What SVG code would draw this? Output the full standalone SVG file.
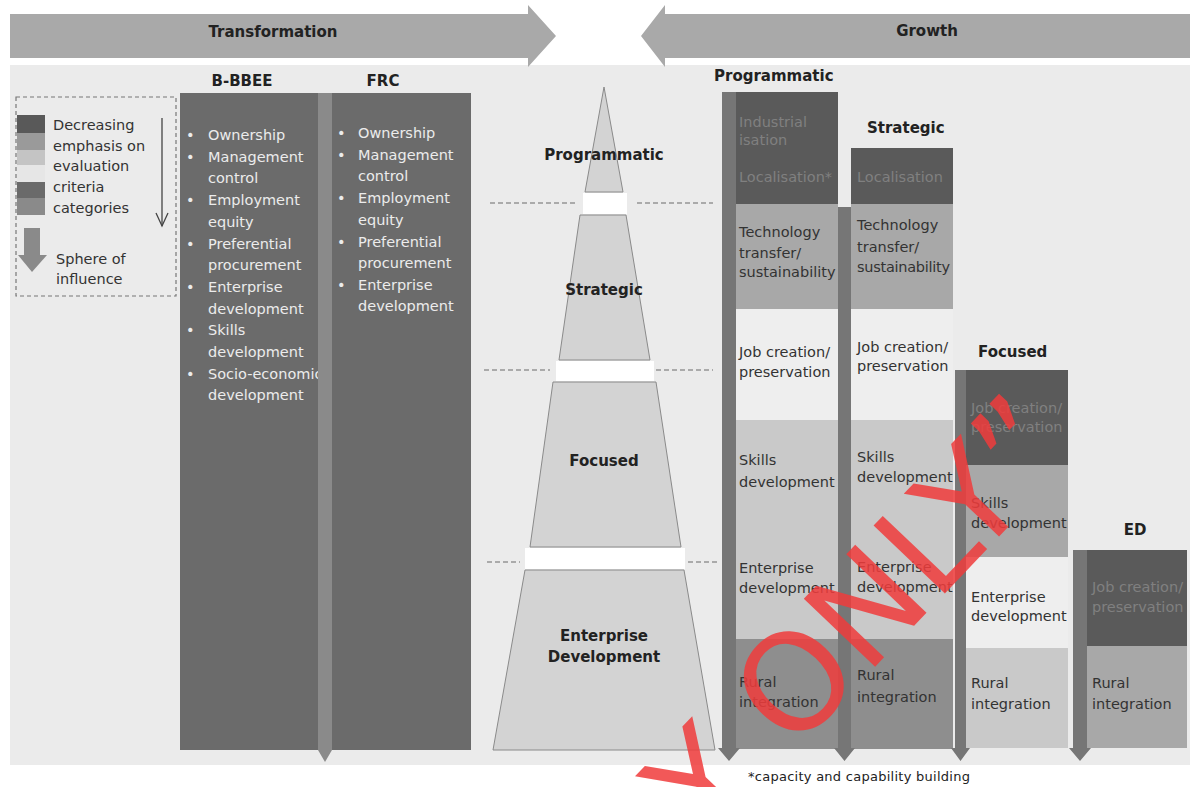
<svg xmlns="http://www.w3.org/2000/svg" width="1197" height="787" viewBox="0 0 1197 787">
<style>
text{font-family:"DejaVu Sans","Verdana",sans-serif;}
.h{font-size:15px;font-weight:bold;fill:#222;}
.t{font-size:14.5px;fill:#333;}
.w{font-size:14.5px;fill:#ececec;}
.dim{font-size:14.5px;fill:#808080;}
.lg{font-size:14.5px;fill:#333;}
.pyr{fill:#d3d3d3;stroke:#8a8a8a;stroke-width:1;}
.band{fill:#ffffff;}
.dash{stroke:#6a6a6a;stroke-width:1.2;stroke-dasharray:5,3;fill:none;}
.strip{fill:#767676;}
.dk{fill:#5a5a5a;}
.md{fill:#a8a8a8;}
.lt{fill:#c9c9c9;}
.vl{fill:#eeeeee;}
.dm{fill:#8e8e8e;}
</style>
<rect width="1197" height="787" fill="#ffffff"/>
<rect x="10" y="65" width="1180" height="700" fill="#ebebeb"/>

<g id="arrow-transformation">
<polygon points="10,14 528,14 528,5 556,36 528,67 528,58 10,58" fill="#a9a9a9"/>
<text class="h" x="273" y="37" text-anchor="middle">Transformation</text>
</g>
<g id="arrow-growth">
<polygon points="1190,14 665,14 665,5 641,36 665,67 665,58 1190,58" fill="#a9a9a9"/>
<text class="h" x="927" y="36" text-anchor="middle">Growth</text>
</g>

<g id="legend">
<rect x="16" y="97" width="160" height="199" fill="none" stroke="#777" stroke-width="1.2" stroke-dasharray="4,3"/>
<rect x="17" y="115" width="28" height="18" fill="#595959"/>
<rect x="17" y="133" width="28" height="17" fill="#9a9a9a"/>
<rect x="17" y="150" width="28" height="15" fill="#c4c4c4"/>
<rect x="17" y="165" width="28" height="17" fill="#e6e6e6"/>
<rect x="17" y="182" width="28" height="16" fill="#6a6a6a"/>
<rect x="17" y="198" width="28" height="17" fill="#8a8a8a"/>
<text class="lg" x="53" y="130">Decreasing</text>
<text class="lg" x="53" y="151">emphasis on</text>
<text class="lg" x="53" y="171">evaluation</text>
<text class="lg" x="53" y="192">criteria</text>
<text class="lg" x="53" y="213">categories</text>
<line x1="162" y1="118" x2="162" y2="226" stroke="#444" stroke-width="1.3"/>
<polyline points="156,213 162,226 168,213" fill="none" stroke="#444" stroke-width="1.3"/>
<rect x="24" y="228" width="16" height="28" fill="#8a8a8a"/>
<polygon points="18,255 47,255 32,272" fill="#8a8a8a"/>
<text class="lg" x="56" y="264">Sphere of</text>
<text class="lg" x="56" y="284">influence</text>
</g>

<g id="col-bbbee">
<text class="h" x="242" y="86" text-anchor="middle">B-BBEE</text>
<rect x="180" y="93" width="140" height="657" fill="#6b6b6b"/>
<g class="w">
<text x="186" y="140">•</text><text x="208" y="140">Ownership</text>
<text x="186" y="162">•</text><text x="208" y="162">Management</text>
<text x="208" y="183">control</text>
<text x="186" y="205">•</text><text x="208" y="205">Employment</text>
<text x="208" y="227">equity</text>
<text x="186" y="249">•</text><text x="208" y="249">Preferential</text>
<text x="208" y="270">procurement</text>
<text x="186" y="292">•</text><text x="208" y="292">Enterprise</text>
<text x="208" y="314">development</text>
<text x="186" y="335">•</text><text x="208" y="335">Skills</text>
<text x="208" y="357">development</text>
<text x="186" y="379">•</text><text x="208" y="379">Socio-economic</text>
<text x="208" y="400">development</text>
</g>
</g>
<g id="col-frc">
<text class="h" x="383" y="86" text-anchor="middle">FRC</text>
<rect x="332" y="93" width="139" height="657" fill="#6b6b6b"/>
<g class="w">
<text x="337" y="138">•</text><text x="358" y="138">Ownership</text>
<text x="337" y="160">•</text><text x="358" y="160">Management</text>
<text x="358" y="181">control</text>
<text x="337" y="203">•</text><text x="358" y="203">Employment</text>
<text x="358" y="225">equity</text>
<text x="337" y="247">•</text><text x="358" y="247">Preferential</text>
<text x="358" y="268">procurement</text>
<text x="337" y="290">•</text><text x="358" y="290">Enterprise</text>
<text x="358" y="311">development</text>
</g>
</g>

<g id="pyramid">
<polygon class="pyr" points="604,87 623,192 585,192"/>
<polygon class="pyr" points="580,215 626,215 650,360 559,360"/>
<polygon class="pyr" points="553,382 656,382 681,547 530,547"/>
<polygon class="pyr" points="525,570 684,570 715,750 493,750"/>
<rect class="band" x="583" y="193" width="44" height="21"/>
<rect class="band" x="556" y="361" width="98" height="20"/>
<rect class="band" x="525" y="548" width="160" height="21"/>
<text class="h" x="604" y="160" text-anchor="middle">Programmatic</text>
<text class="h" x="604" y="295" text-anchor="middle">Strategic</text>
<text class="h" x="604" y="466" text-anchor="middle">Focused</text>
<text class="h" x="604" y="641" text-anchor="middle">Enterprise</text>
<text class="h" x="604" y="662" text-anchor="middle">Development</text>
</g>

<g id="col-programmatic">
<text class="h" x="714" y="81">Programmatic</text>
<rect class="dk" x="736" y="92" width="102" height="112"/>
<rect class="md" x="736" y="204" width="102" height="105"/>
<rect class="vl" x="736" y="309" width="102" height="111"/>
<rect class="lt" x="736" y="420" width="102" height="219"/>
<rect class="dm" x="736" y="639" width="102" height="110"/>
<text class="dim" x="739" y="127">Industrial</text>
<text class="dim" x="739" y="145">isation</text>
<text class="dim" x="739" y="182">Localisation*</text>
<text class="t" x="739" y="237">Technology</text>
<text class="t" x="739" y="258">transfer/</text>
<text class="t" x="739" y="277">sustainability</text>
<text class="t" x="739" y="357">Job creation/</text>
<text class="t" x="739" y="377">preservation</text>
<text class="t" x="739" y="465">Skills</text>
<text class="t" x="739" y="487">development</text>
<text class="t" x="739" y="573">Enterprise</text>
<text class="t" x="739" y="593">development</text>
<text class="t" x="739" y="687">Rural</text>
<text class="t" x="739" y="707">integration</text>
</g>

<g id="col-strategic">
<text class="h" x="867" y="133">Strategic</text>
<rect class="dk" x="851" y="148" width="102" height="56"/>
<rect class="md" x="851" y="204" width="102" height="105"/>
<rect class="vl" x="851" y="309" width="102" height="111"/>
<rect class="lt" x="851" y="420" width="102" height="219"/>
<rect class="dm" x="851" y="639" width="102" height="110"/>
<text class="dim" x="857" y="182">Localisation</text>
<text class="t" x="857" y="230">Technology</text>
<text class="t" x="857" y="252">transfer/</text>
<text class="t" x="857" y="272" textLength="93">sustainability</text>
<text class="t" x="857" y="352">Job creation/</text>
<text class="t" x="857" y="371">preservation</text>
<text class="t" x="857" y="462">Skills</text>
<text class="t" x="857" y="482">development</text>
<text class="t" x="857" y="572">Enterprise</text>
<text class="t" x="857" y="592">development</text>
<text class="t" x="857" y="680">Rural</text>
<text class="t" x="857" y="702">integration</text>
</g>

<g id="col-focused">
<text class="h" x="978" y="357">Focused</text>
<rect class="dk" x="966" y="370" width="102" height="95"/>
<rect class="md" x="966" y="465" width="102" height="92"/>
<rect class="vl" x="966" y="557" width="102" height="91"/>
<rect class="lt" x="966" y="648" width="102" height="100"/>
<text class="dim" x="971" y="413">Job creation/</text>
<text class="dim" x="971" y="432">preservation</text>
<text class="t" x="971" y="508">Skills</text>
<text class="t" x="971" y="528">development</text>
<text class="t" x="971" y="602">Enterprise</text>
<text class="t" x="971" y="621">development</text>
<text class="t" x="971" y="688">Rural</text>
<text class="t" x="971" y="709">integration</text>
</g>

<g id="col-ed">
<text class="h" x="1135" y="535" text-anchor="middle">ED</text>
<rect class="dk" x="1087" y="550" width="100" height="96"/>
<rect class="md" x="1087" y="646" width="100" height="102"/>
<text class="dim" x="1092" y="592">Job creation/</text>
<text class="dim" x="1092" y="612">preservation</text>
<text class="t" x="1092" y="688">Rural</text>
<text class="t" x="1092" y="709">integration</text>
</g>

<g id="connectors">
<polygon points="318,93 332,93 332,750 325,762 318,750" fill="#8a8a8a"/>
<polygon class="strip" points="722,92 736,92 736,748 740,748 729,761 718,748 722,748"/>
<polygon class="strip" points="838,207 851,207 851,748 855,748 844.5,761 834,748 838,748"/>
<polygon class="strip" points="955,370 966,370 966,748 970,748 960.5,761 951,748 955,748"/>
<polygon class="strip" points="1073,550 1087,550 1087,748 1091,748 1080,761 1069,748 1073,748"/>
<line class="dash" x1="490" y1="203" x2="578" y2="203"/>
<line class="dash" x1="637" y1="203" x2="713" y2="203"/>
<line class="dash" x1="484" y1="370" x2="550" y2="370"/>
<line class="dash" x1="656" y1="370" x2="713" y2="370"/>
<line class="dash" x1="487" y1="562" x2="520" y2="562"/>
<line class="dash" x1="688" y1="562" x2="718" y2="562"/>
</g>

<text x="748" y="781" font-size="13" fill="#222" textLength="222">*capacity and capability building</text>

<text x="514" y="1046" transform="rotate(-46.4 514 1046)" font-family="Liberation Sans, Arial, sans-serif" font-size="135" fill="#f03c3c" opacity="0.85">COPY ONLY”</text>
</svg>
